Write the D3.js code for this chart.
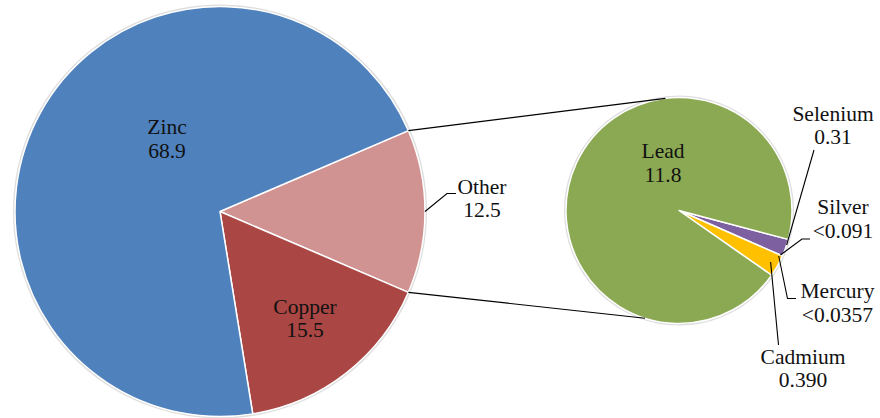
<!DOCTYPE html>
<html>
<head>
<meta charset="utf-8">
<script src="https://cdn.jsdelivr.net/npm/d3@7/dist/d3.min.js"></script>
</head>
<body style="margin:0">
<svg id="chart" width="880" height="418" font-family="Liberation Serif"></svg>
<script>
// ---- data ----
const mainCategories = ["Other", "Copper", "Zinc"];
const mainValues = [12.5, 15.5, 68.9];
const mainLabels = ["12.5", "15.5", "68.9"];

const subCategories = ["Selenium", "Silver", "Mercury", "Cadmium", "Lead"];
const subValues = [0.31, 0, 0, 0.39, 11.8];       // Silver / Mercury are below detection (drawn ~0)
const subLabels = ["0.31", "<0.091", "<0.0357", "0.390", "11.8"];

const colors = {
  Zinc: "#4F81BD", Copper: "#AA4644", Other: "#D19392",
  Lead: "#8BA852", Selenium: "#7D60A0", Silver: "#7D60A0", Mercury: "#4BACC6", Cadmium: "#FFC000"
};

// ---- layout ----
const deg = Math.PI / 180;
const main = { cx: 220, cy: 211.5, r: 205 };
const sub = { cx: 679, cy: 210.5, r: 113 };

const svg = d3.select("#chart");
const shapes = svg.append("g");
const texts = svg.append("g").attr("font-family", "Liberation Serif").attr("font-size", 21.5).attr("fill", "#111");

function pt(c, r, a) { return [c.cx + r * Math.sin(a), c.cy - r * Math.cos(a)]; }

const mainTotal = d3.sum(mainValues);
const otherSpan = 2 * Math.PI * mainValues[0] / mainTotal;
const mainStart = Math.PI / 2 - otherSpan / 2;
const mainPie = d3.pie().sort(null).value(d => d.v)
  .startAngle(mainStart).endAngle(mainStart + 2 * Math.PI);
const mainArcs = mainPie(mainCategories.map((c, i) => ({ c, v: mainValues[i], l: mainLabels[i] })));

const subPie = d3.pie().sort(null).value(d => d.v)
  .startAngle(104.8 * deg).endAngle(104.8 * deg + 2 * Math.PI);
const subArcs = subPie(subCategories.map((c, i) => ({ c, v: subValues[i], l: subLabels[i] })));

// ---- labels (drawn into the top layer) ----
function label(x, y, name, val) {
  const t = texts.append("text").attr("text-anchor", "middle").attr("font-family", "Liberation Serif");
  t.append("tspan").attr("x", x).attr("y", y).text(name);
  t.append("tspan").attr("x", x).attr("y", y + 23.5).text(val);
}
const byName = a => Object.fromEntries(a.map(d => [d.data.c, d]));
const M = byName(mainArcs), S = byName(subArcs);

label(167, 134, "Zinc", M.Zinc.data.l);
label(305, 313.5, "Copper", M.Copper.data.l);
label(482, 193.5, "Other", M.Other.data.l);
label(663, 158, "Lead", S.Lead.data.l);
label(833, 120.5, "Selenium", S.Selenium.data.l);
label(843, 214, "Silver", S.Silver.data.l);
label(837.5, 298, "Mercury", S.Mercury.data.l);
label(803, 363.5, "Cadmium", S.Cadmium.data.l);

// soft edge shadow
[main, sub].forEach(c => {
  shapes.append("circle").attr("cx", c.cx).attr("cy", c.cy).attr("r", c.r + 0.8)
    .attr("fill", "none").attr("stroke", "rgba(0,0,0,0.13)").attr("stroke-width", 2.5);
});

const mainArc = d3.arc().innerRadius(0).outerRadius(main.r);
shapes.append("g").attr("transform", `translate(${main.cx},${main.cy})`)
  .selectAll("path").data(mainArcs).join("path")
  .attr("d", mainArc).attr("fill", d => colors[d.data.c])
  .attr("stroke", "#fff").attr("stroke-width", 1.5).attr("stroke-linejoin", "round");

const subArc = d3.arc().innerRadius(0).outerRadius(sub.r);
shapes.append("g").attr("transform", `translate(${sub.cx},${sub.cy})`)
  .selectAll("path").data(subArcs.filter(d => d.data.v > 0)).join("path")
  .attr("d", subArc).attr("fill", d => colors[d.data.c])
  .attr("stroke", "#fff").attr("stroke-width", 1.5).attr("stroke-linejoin", "round");

// connector lines between pies
const other = mainArcs[0];
const topA = pt(main, main.r, other.startAngle);
const botA = pt(main, main.r, other.endAngle);
const topB = pt(sub, sub.r, -6.9 * deg);
const botB = pt(sub, sub.r, 197.5 * deg);
const line = d3.line();
shapes.append("path").attr("d", line([topA, topB])).attr("stroke", "#000").attr("stroke-width", 1.2).attr("fill", "none");
shapes.append("path").attr("d", line([botA, botB])).attr("stroke", "#000").attr("stroke-width", 1.2).attr("fill", "none");

// leader lines
const mid = d => (d.startAngle + d.endAngle) / 2;
const leaders = [
  [[456, 193.5], [447, 193.5], pt(main, main.r, mid(M.Other))],
  [[814, 150], pt(sub, sub.r * 1.0, mid(S.Selenium) - 1.5 * deg)],
  [[810, 239], [802, 239], pt(sub, sub.r * 0.98, S.Silver.startAngle)],
  [[796, 298.5], [787.5, 298.5], pt(sub, sub.r * 0.97, S.Mercury.startAngle + 0.8 * deg)],
  [[778.5, 345], pt(sub, sub.r * 0.93, mid(S.Cadmium))]
];
leaders.forEach(p => shapes.append("path").attr("d", line(p))
  .attr("stroke", "#000").attr("stroke-width", 1.1).attr("fill", "none"));
</script>
</body>
</html>
